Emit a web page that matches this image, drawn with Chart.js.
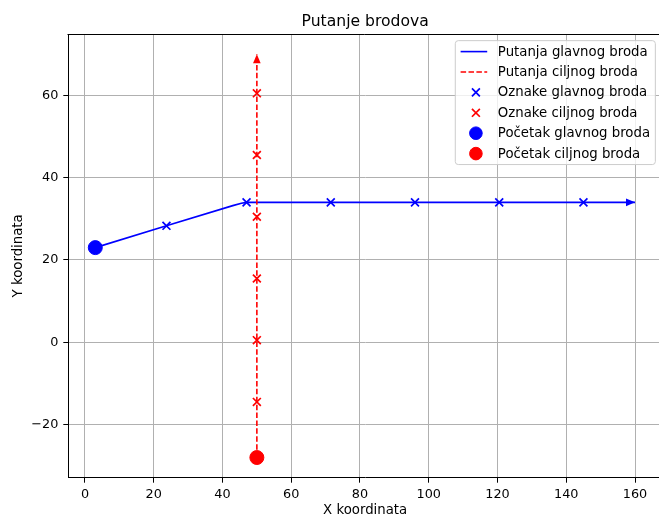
<!DOCTYPE html>
<html>
<head>
<meta charset="utf-8">
<title>Putanje brodova</title>
<script src="https://cdn.jsdelivr.net/npm/chart.js@4.4.1/dist/chart.umd.min.js"></script>
<style>
  html, body { margin: 0; padding: 0; background: #fff; overflow: hidden; }
  #okvir { width: 670px; height: 520px; }
</style>
</head>
<body>
<div id="okvir"><canvas id="putanje" width="670" height="520"></canvas></div>
<script>
// putanja glavnog broda (vrhovi izlomljene linije)
const glavniX = [3, 23.7, 43, 45.5, 47, 160];
const glavniY = [23, 28.3, 33.2, 33.8, 34, 34];
// oznake uzduž putanje glavnog broda
const oznakeGlavniX = [23.7, 47, 71.5, 96, 120.5, 145];
const oznakeGlavniY = [28.3, 34, 34, 34, 34, 34];
// ciljni brod plovi ravno prema sjeveru
const ciljniX = [50, 50];
const ciljniY = [-28, 70];
const oznakeCiljniX = [50, 50, 50, 50, 50, 50];
const oznakeCiljniY = [-14.5, 0.5, 15.5, 30.5, 45.5, 60.5];
// početne pozicije
const pocetakGlavni = [3, 23];
const pocetakCiljni = [50, -28];

const xTicks = [0, 20, 40, 60, 80, 100, 120, 140, 160];
const yTicks = [-20, 0, 20, 40, 60];
const xGranice = [-4.85, 167.85];
const yGranice = [-32.9, 74.9];

const FONT = "'DejaVu Sans', sans-serif";
Chart.defaults.font.family = FONT;
Chart.defaults.color = '#000';

const tocke = (xs, ys) => xs.map((x, i) => ({ x: x, y: ys[i] }));

// vrh strelice na kraju svake putanje
const strelice = {
  id: 'strelice',
  afterDatasetsDraw(chart) {
    const ctx = chart.ctx;
    chart.data.datasets.forEach((ds, i) => {
      if (!ds.strelica) return;
      const el = chart.getDatasetMeta(i).data;
      const a = el[el.length - 2], b = el[el.length - 1];
      const kut = Math.atan2(b.y - a.y, b.x - a.x);
      ctx.save();
      ctx.translate(b.x, b.y);
      ctx.rotate(kut);
      ctx.beginPath();
      ctx.moveTo(0, 0);
      ctx.lineTo(-9, -3.8);
      ctx.lineTo(-9, 3.8);
      ctx.closePath();
      ctx.fillStyle = ds.borderColor;
      ctx.fill();
      ctx.restore();
    });
  }
};

// naslov, gornji okvir i legenda unutar grafa
const ukrasi = {
  id: 'ukrasi',
  afterDraw(chart) {
    const { ctx, chartArea: ca } = chart;
    ctx.save();

    ctx.strokeStyle = '#000';
    ctx.lineWidth = 1;
    ctx.beginPath();
    ctx.moveTo(Math.round(ca.left) - 0.5, Math.round(ca.top) + 0.5);
    ctx.lineTo(ca.right, Math.round(ca.top) + 0.5);
    ctx.stroke();

    ctx.fillStyle = '#000';
    ctx.font = '15.6px ' + FONT;
    ctx.textAlign = 'center';
    ctx.textBaseline = 'alphabetic';
    ctx.fillText('Putanje brodova', (ca.left + ca.right) / 2, ca.top - 8);

    const fs = 13.3;
    ctx.font = fs + 'px ' + FONT;
    const stavke = chart.data.datasets;
    const tw = Math.max(...stavke.map(d => ctx.measureText(d.label).width));
    const pad = 0.4 * fs, duljina = 2 * fs, razmak = 0.8 * fs, red = 20.4;
    const w = pad * 2 + duljina + razmak + tw;
    const h = stavke.length * red + 1.5;
    const desno = ca.right - 0.5 * fs, vrh = ca.top + 0.5 * fs;
    const lijevo = desno - w;

    ctx.beginPath();
    ctx.roundRect(lijevo, vrh, w, h, 3);
    ctx.fillStyle = 'rgba(255,255,255,0.8)';
    ctx.fill();
    ctx.strokeStyle = '#cccccc';
    ctx.stroke();

    stavke.forEach((d, i) => {
      const y = vrh + 0.75 + red * i + red / 2;
      const x0 = lijevo + pad;
      if (d.showLine) {
        ctx.save();
        ctx.strokeStyle = d.borderColor;
        ctx.lineWidth = d.borderWidth;
        ctx.setLineDash(d.borderDash || []);
        ctx.beginPath();
        ctx.moveTo(x0, y);
        ctx.lineTo(x0 + duljina, y);
        ctx.stroke();
        ctx.restore();
      } else {
        ctx.save();
        ctx.strokeStyle = d.borderColor;
        ctx.fillStyle = d.backgroundColor || d.borderColor;
        ctx.lineWidth = d.borderWidth;
        Chart.helpers.drawPoint(ctx, {
          pointStyle: d.pointStyle,
          radius: d.pointStyle === 'circle' ? 6.3 : d.pointRadius,
          borderWidth: d.borderWidth,
          rotation: 0
        }, x0 + duljina / 2 + 2, y);
        ctx.restore();
      }
      ctx.fillStyle = '#000';
      ctx.textAlign = 'left';
      ctx.textBaseline = 'middle';
      ctx.fillText(d.label, x0 + duljina + razmak, y + 0.5);
    });
    ctx.restore();
  }
};

const minus = v => String(v).replace('-', '\u2212');

new Chart(document.getElementById('putanje'), {
  type: 'scatter',
  data: {
    datasets: [
      {
        label: 'Putanja glavnog broda',
        data: tocke(glavniX, glavniY),
        showLine: true,
        borderColor: 'blue',
        borderWidth: 1.6,
        pointRadius: 0,
        strelica: true,
        order: 6
      },
      {
        label: 'Putanja ciljnog broda',
        data: tocke(ciljniX, ciljniY),
        showLine: true,
        borderColor: 'red',
        borderWidth: 1.6,
        borderDash: [5.5, 2.4],
        pointRadius: 0,
        strelica: true,
        order: 5
      },
      {
        label: 'Oznake glavnog broda',
        data: tocke(oznakeGlavniX, oznakeGlavniY),
        pointStyle: 'crossRot',
        pointRadius: 5.6,
        borderColor: 'blue',
        borderWidth: 1.7,
        pointBorderWidth: 1.7,
        order: 4
      },
      {
        label: 'Oznake ciljnog broda',
        data: tocke(oznakeCiljniX, oznakeCiljniY),
        pointStyle: 'crossRot',
        pointRadius: 5.6,
        borderColor: 'red',
        borderWidth: 1.7,
        pointBorderWidth: 1.7,
        order: 3
      },
      {
        label: 'Početak glavnog broda',
        data: [{ x: pocetakGlavni[0], y: pocetakGlavni[1] }],
        pointStyle: 'circle',
        pointRadius: 7,
        backgroundColor: 'blue',
        borderColor: 'blue',
        borderWidth: 1,
        order: 2
      },
      {
        label: 'Početak ciljnog broda',
        data: [{ x: pocetakCiljni[0], y: pocetakCiljni[1] }],
        pointStyle: 'circle',
        pointRadius: 7,
        backgroundColor: 'red',
        borderColor: 'red',
        borderWidth: 1,
        order: 1
      }
    ]
  },
  options: {
    responsive: false,
    animation: false,
    layout: { padding: { left: 0, right: 6.2, top: 34, bottom: 0 } },
    plugins: {
      legend: { display: false },
      title: { display: false },
      tooltip: { enabled: false }
    },
    elements: { line: { tension: 0 } },
    scales: {
      x: {
        type: 'linear',
        min: xGranice[0],
        max: xGranice[1],
        afterBuildTicks: s => { s.ticks = xTicks.map(v => ({ value: v })); },
        afterFit: s => { s.height = 42.3; s.paddingLeft = 0; s.paddingRight = 0; },
        ticks: { font: { size: 12.8 }, padding: 4.5, callback: minus },
        grid: { color: '#b0b0b0', lineWidth: 1, tickLength: 5, tickColor: '#000', tickWidth: 1 },
        border: { display: true, color: '#000', width: 1 },
        title: { display: true, text: 'X koordinata', font: { size: 13.3 }, padding: { top: 0, bottom: 1 } }
      },
      y: {
        type: 'linear',
        min: yGranice[0],
        max: yGranice[1],
        afterBuildTicks: s => { s.ticks = yTicks.map(v => ({ value: v })); },
        afterFit: s => { s.width = 68.3; s.paddingTop = 0; s.paddingBottom = 0; },
        ticks: { font: { size: 12.8 }, padding: 5, callback: minus },
        grid: { color: '#b0b0b0', lineWidth: 1, tickLength: 5, tickColor: '#000', tickWidth: 1 },
        border: { display: true, color: '#000', width: 1 },
        title: { display: true, text: 'Y koordinata', font: { size: 13.3 }, padding: { top: 10.5, bottom: 0 } }
      }
    }
  },
  plugins: [strelice, ukrasi]
});
</script>
</body>
</html>
